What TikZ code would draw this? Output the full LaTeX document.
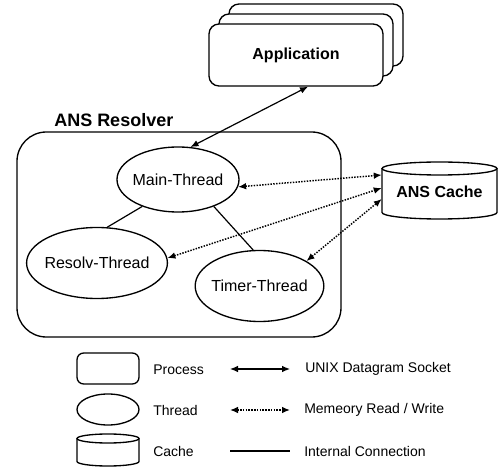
\documentclass[tikz,border=0pt]{standalone}
\usepackage{fontspec}
\setmainfont{Liberation Sans}
\usetikzlibrary{shapes.geometric,arrows.meta}

\tikzset{
  procbox/.style={draw, line width=1pt, rounded corners=7.5pt, fill=white, inner sep=0pt},
  thrd/.style={draw, ellipse, line width=1pt, inner sep=0pt, inner xsep=-2pt, font=\fontsize{12}{14}\selectfont},
  cachearea/.style={inner sep=0pt},
  sock/.style={{Latex[length=6pt,width=5pt]}-{Latex[length=6pt,width=5pt]}, line width=0.9pt},
  memrw/.style={{Latex[length=6pt,width=5pt]}-{Latex[length=6pt,width=5pt]}, densely dotted, line width=1.1pt},
  intern/.style={line width=0.9pt},
  legtext/.style={anchor=west, inner sep=0.75pt, font=\fontsize{10.5}{12}\selectfont},
}

\begin{document}
\begin{tikzpicture}[x=0.75pt,y=0.75pt,yscale=-1,xscale=1]
  \useasboundingbox (0,0) rectangle (500,470);

  %Shape: Application stack
  \node [procbox, minimum width=130.5pt, minimum height=46.5pt] (app3) at (316,35) {};
  \node [procbox, minimum width=130.5pt, minimum height=46.5pt] (app2) at (306,45) {};
  \node [procbox, minimum width=130.5pt, minimum height=46.5pt, font=\bfseries\fontsize{12}{14}\selectfont] (app) at (296,55) {Application};

  %Shape: Resolver process
  \node [procbox, rounded corners=22pt, minimum width=243pt, minimum height=153.75pt] (resolver) at (179,234.5) {};
  % Text Node
  \node [anchor=west][inner sep=0.75pt][font=\bfseries\fontsize{13.5}{16}\selectfont] (reslabel) at (53,120) {ANS Resolver};

  %Shape: Threads
  \node [thrd, minimum width=91.5pt, minimum height=48.75pt] (main) at (178,179.5) {Main-Thread};
  \node [thrd, minimum width=91.5pt, minimum height=53.25pt] (resolv) at (97,263) {Resolv-Thread};
  \node [thrd, minimum width=90.75pt, minimum height=53.25pt] (timer) at (259.5,286) {Timer-Thread};

  %Shape: Cylinder (cache)
  \draw [line width=1pt] (439.5,168.5) ellipse [x radius=57.5, y radius=6.5] ;
  \draw [line width=1pt] (382,168.5) -- (382,212.5) arc [start angle=180, end angle=0, x radius=57.5, y radius=6.5] -- (497,168.5) ;
  \node [cachearea, minimum width=86.25pt, minimum height=42.75pt, font=\bfseries\fontsize{12}{14}\selectfont] (cache) at (439.5,192) {ANS Cache};

  %Straight Lines: socket
  \draw [sock] ([xshift=9pt]app.south) -- (main.69) ;
  %Straight Lines: memory
  \draw [memrw] (main.353) -- ([yshift=-12.75pt]cache.west) ;
  \draw [memrw] (resolv.4) -- ([yshift=-3pt]cache.west) ;
  \draw [memrw] (timer.28) -- ([yshift=5.25pt]cache.west) ;
  %Straight Lines: internal
  \draw [intern] (main.217) -- (resolv.74) ;
  \draw [intern] (main.323) -- (timer.100) ;

  %Legend
  \node [procbox, minimum width=46.5pt, minimum height=23.25pt, rounded corners=5pt] (lproc) at (108,368.5) {};
  \node [thrd, minimum width=46.5pt, minimum height=23.25pt] (lthrd) at (108,409.5) {};
  %Shape: Cylinder (legend)
  \draw [line width=1pt] (108,438.5) ellipse [x radius=31, y radius=4.5] ;
  \draw [line width=1pt] (77,438.5) -- (77,461.5) arc [start angle=180, end angle=0, x radius=31, y radius=4.5] -- (139,438.5) ;
  \node [cachearea, minimum width=46.5pt, minimum height=24pt] (lcache) at (108,450) {};
  % Text Node
  \node [legtext] (tproc) at (152,370) {Process};
  \node [legtext] (tthrd) at (152,410) {Thread};
  \node [legtext] (tcache) at (152,451) {Cache};

  \coordinate (s1) at (230,369);
  \coordinate (s2) at (290,369);
  \coordinate (m1) at (230,410);
  \coordinate (m2) at (290,410);
  \coordinate (i1) at (230,451);
  \coordinate (i2) at (290,451);
  \draw [sock] (s1) -- (s2) ;
  \draw [memrw] (m1) -- (m2) ;
  \draw [intern] (i1) -- (i2) ;
  % Text Node
  \node [legtext] (tsock) at (304,369) {UNIX Datagram Socket};
  \node [legtext] (tmem) at (303,410) {Memeory Read / Write};
  \node [legtext] (tint) at (303,451) {Internal Connection};

\end{tikzpicture}
\end{document}
